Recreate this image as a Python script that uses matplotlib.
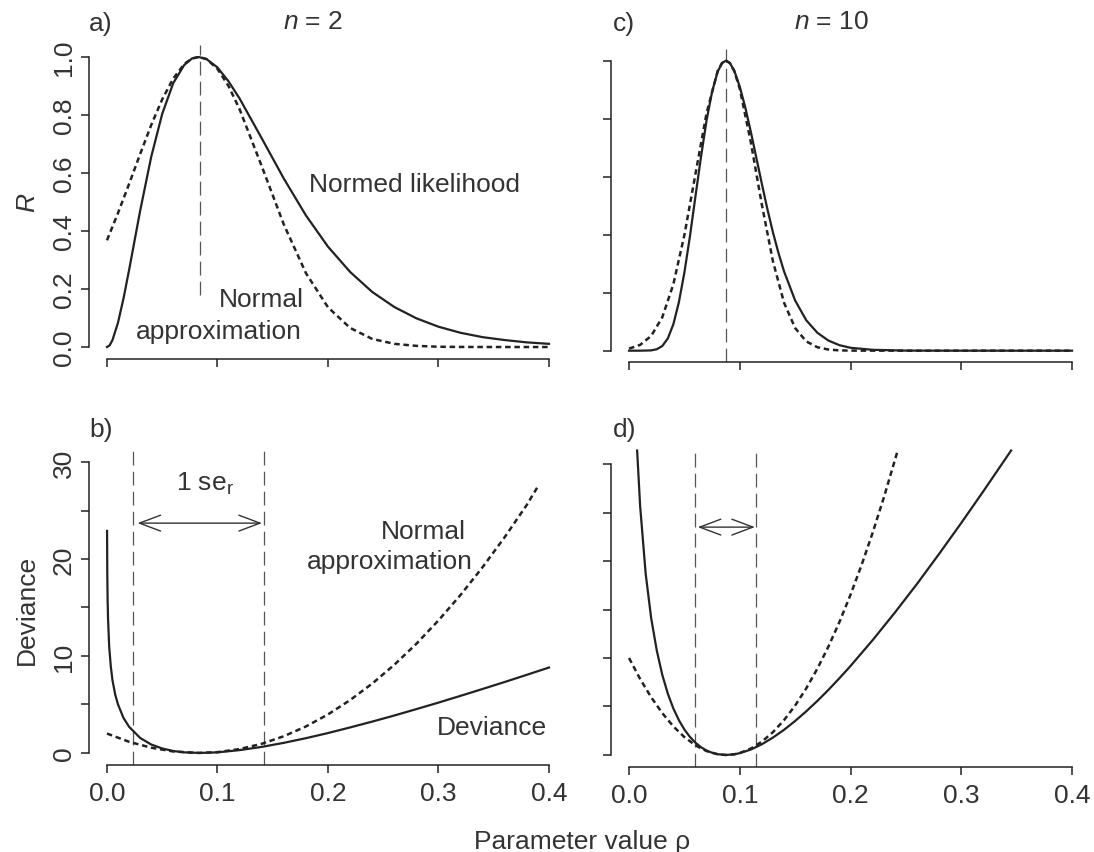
import matplotlib.pyplot as plt

plt.rcParams['font.family'] = ['Liberation Sans', 'DejaVu Sans']
plt.rcParams['font.size'] = 19
plt.rcParams['mathtext.fontset'] = 'custom'
plt.rcParams['mathtext.rm'] = 'Liberation Sans'
plt.rcParams['mathtext.it'] = 'Liberation Sans:italic'

# ---- n = 2 ----
# a) normed likelihood R
rho_a = [0, 0.0025, 0.005, 0.01, 0.015, 0.02, 0.03, 0.04, 0.05, 0.06, 0.07, 0.077, 0.083,
         0.09, 0.10, 0.11, 0.12, 0.14, 0.16, 0.18, 0.20, 0.22, 0.24, 0.26, 0.28,
         0.30, 0.32, 0.34, 0.36, 0.38, 0.40]
lik_a = [0, 0.006, 0.024, 0.084, 0.168, 0.265, 0.469, 0.655, 0.804, 0.910, 0.973, 0.995, 1.0,
         0.993, 0.964, 0.916, 0.857, 0.720, 0.581, 0.454, 0.346, 0.259, 0.190, 0.138, 0.099,
         0.070, 0.049, 0.034, 0.024, 0.016, 0.011]
rho_a_norm = [0, 0.01, 0.02, 0.03, 0.04, 0.05, 0.06, 0.07, 0.077, 0.083, 0.09, 0.10, 0.11, 0.12,
              0.14, 0.16, 0.18, 0.20, 0.22, 0.24, 0.26, 0.28, 0.30, 0.32, 0.36, 0.40]
lik_a_norm = [0.368, 0.462, 0.562, 0.665, 0.765, 0.854, 0.926, 0.976, 0.995, 1.0, 0.993, 0.959,
              0.900, 0.820, 0.624, 0.423, 0.255, 0.137, 0.066, 0.028, 0.011, 0.004, 0.001,
              0.0003, 0, 0]

# b) deviance
rho_b = [0.0001, 0.0003, 0.0006, 0.001, 0.002, 0.0035, 0.005, 0.0075, 0.01, 0.015, 0.02,
         0.03, 0.04, 0.05, 0.06, 0.07, 0.084, 0.10, 0.12, 0.14, 0.16, 0.18, 0.20, 0.22,
         0.24, 0.26, 0.28, 0.30, 0.32, 0.34, 0.36, 0.38, 0.40]
dev_b = [22.9, 18.6, 15.8, 13.8, 11.0, 8.9, 7.5, 6.0, 5.0, 3.6, 2.7,
         1.55, 0.87, 0.46, 0.20, 0.06, 0.0, 0.06, 0.29, 0.62, 1.04, 1.52, 2.05, 2.63,
         3.23, 3.86, 4.52, 5.19, 5.89, 6.60, 7.32, 8.06, 8.81]
rho_b_norm = [0, 0.02, 0.04, 0.06, 0.083, 0.10, 0.12, 0.14, 0.16, 0.18, 0.20, 0.22,
              0.24, 0.26, 0.28, 0.30, 0.32, 0.34, 0.36, 0.38, 0.39]
dev_b_norm = [2.0, 1.15, 0.54, 0.15, 0.0, 0.08, 0.40, 0.94, 1.72, 2.73, 3.97, 5.45,
              7.15, 9.09, 11.26, 13.67, 16.30, 19.17, 22.27, 25.60, 27.5]

# ---- n = 10 ----
# c) normed likelihood R
rho_c = [0, 0.01, 0.02, 0.025, 0.03, 0.035, 0.04, 0.045, 0.05, 0.055, 0.06, 0.065,
         0.07, 0.075, 0.08, 0.084, 0.0875, 0.091, 0.095, 0.10, 0.105, 0.11, 0.115, 0.12,
         0.125, 0.13, 0.135, 0.14, 0.15, 0.16, 0.17, 0.18, 0.19, 0.20, 0.22, 0.25, 0.30,
         0.35, 0.40]
lik_c = [0, 0, 0.001, 0.005, 0.016, 0.042, 0.091, 0.167, 0.270, 0.395, 0.533, 0.669,
         0.794, 0.893, 0.962, 0.992, 1.0, 0.992, 0.966, 0.910, 0.838, 0.754, 0.664, 0.574,
         0.487, 0.407, 0.336, 0.273, 0.173, 0.105, 0.062, 0.035, 0.019, 0.010, 0.003, 0.0003,
         0, 0, 0]
rho_c_norm = [0, 0.01, 0.02, 0.03, 0.04, 0.05, 0.06, 0.07, 0.08, 0.084, 0.0875, 0.091, 0.095,
              0.10, 0.11, 0.12, 0.13, 0.14, 0.15, 0.16, 0.17, 0.18, 0.19, 0.20, 0.25, 0.30, 0.40]
lik_c_norm = [0.007, 0.020, 0.051, 0.115, 0.229, 0.399, 0.610, 0.819, 0.964, 0.992, 1.0, 0.992,
              0.964, 0.903, 0.718, 0.502, 0.307, 0.165, 0.078, 0.032, 0.012, 0.004, 0.001,
              0.0003, 0, 0, 0]

# d) deviance
rho_d = [0.0073, 0.01, 0.015, 0.02, 0.025, 0.03, 0.035, 0.04, 0.045, 0.05, 0.055, 0.06,
         0.065, 0.07, 0.075, 0.08, 0.0875, 0.095, 0.10, 0.11, 0.12, 0.13, 0.14, 0.15,
         0.16, 0.17, 0.18, 0.19, 0.20, 0.22, 0.24, 0.26, 0.28, 0.30, 0.32, 0.345]
dev_d = [31.4, 25.7, 18.7, 14.1, 10.8, 8.27, 6.33, 4.80, 3.59, 2.62, 1.86, 1.26,
         0.80, 0.46, 0.23, 0.08, 0.0, 0.07, 0.19, 0.56, 1.11, 1.80, 2.60, 3.51,
         4.50, 5.57, 6.71, 7.92, 9.18, 11.85, 14.68, 17.64, 20.74, 23.93, 27.21, 31.4]
rho_d_norm = [0, 0.01, 0.02, 0.03, 0.04, 0.05, 0.06, 0.07, 0.08, 0.0875, 0.095, 0.10,
              0.11, 0.12, 0.13, 0.14, 0.15, 0.16, 0.17, 0.18, 0.19, 0.20, 0.21, 0.22, 0.23, 0.242]
dev_d_norm = [10.0, 7.84, 5.95, 4.32, 2.95, 1.84, 0.99, 0.40, 0.07, 0.0, 0.07, 0.20,
              0.66, 1.38, 2.36, 3.60, 5.10, 6.87, 8.89, 11.17, 13.72, 16.53, 19.60, 22.93, 26.52, 31.17]

# estimates and +-1 se markers
mle_a, mle_c = 0.084, 0.088
se_b = [0.0235, 0.142]
se_d = [0.060, 0.115]
arrow_b = [0.0276, 0.1403, 23.7]
arrow_d = [0.062, 0.1137, 23.5]

xticks = [0, 0.1, 0.2, 0.3, 0.4]
xlabels = ['0.0', '0.1', '0.2', '0.3', '0.4']
rticks = [0, 0.2, 0.4, 0.6, 0.8, 1.0]
rlabels = ['0.0', '0.2', '0.4', '0.6', '0.8', '1.0']
dticks = [0, 5, 10, 15, 20, 25, 30]
dlabels = ['0', '', '10', '', '20', '', '30']

ink = '#222222'
txt = '#333333'
solid = dict(color=ink, lw=1.6, clip_on=False)
dashed = dict(color=ink, lw=1.8, linestyle=(0, (2.2, 1.5)), clip_on=False)
vline = dict(color='#555555', lw=0.9, linestyle=(0, (11, 5)))

fig = plt.figure(figsize=(10.94, 8.53), dpi=100)
ax_a = fig.add_axes([0.0816, 0.5784, 0.4364, 0.3672])
ax_b = fig.add_axes([0.0816, 0.1025, 0.4364, 0.3683])
ax_c = fig.add_axes([0.5588, 0.5741, 0.4373, 0.3672])
ax_d = fig.add_axes([0.5588, 0.1001, 0.4373, 0.3683])


def r_style(ax, yticks, ylabels, show_x):
    pad = 0.04 * (yticks[-1] - yticks[0])
    ax.set_xlim(-0.016, 0.416)
    ax.set_ylim(yticks[0] - pad, yticks[-1] + pad)
    ax.spines['top'].set_visible(False)
    ax.spines['right'].set_visible(False)
    ax.spines['left'].set_bounds(yticks[0], yticks[-1])
    ax.spines['bottom'].set_bounds(0, 0.4)
    for s in ['left', 'bottom']:
        ax.spines[s].set_color(ink)
        ax.spines[s].set_linewidth(1.1)
    ax.set_xticks(xticks)
    ax.set_xticklabels(xlabels if show_x else [''] * 5)
    ax.set_yticks(yticks)
    ax.set_yticklabels(ylabels, rotation=90, va='center')
    ax.tick_params(direction='out', length=5.5, width=1.1, color=ink, labelcolor=txt)
    ax.tick_params(axis='x', pad=6)
    ax.tick_params(axis='y', pad=4)
    ax.patch.set_visible(False)


# a)
ax_a.plot(rho_a_norm, lik_a_norm, **dashed)
ax_a.plot(rho_a, lik_a, **solid)
ax_a.plot([mle_a, mle_a], [0.18, 1.04], clip_on=False, **vline)
ax_a.text(0.183, 0.562, 'Normed likelihood', color=txt, va='center', ha='left')
ax_a.text(0.178, 0.166, 'Normal', color=txt, va='center', ha='right')
ax_a.text(0.176, 0.055, 'approximation', color=txt, va='center', ha='right')
r_style(ax_a, rticks, rlabels, False)

# b)
for s in se_b:
    ax_b.axvline(s, **vline)
ax_b.plot(rho_b_norm, dev_b_norm, **dashed)
ax_b.plot(rho_b, dev_b, **solid)
ax_b.annotate('', xy=(arrow_b[0], arrow_b[2]), xytext=(arrow_b[1], arrow_b[2]),
              arrowprops=dict(arrowstyle='<->,head_length=0.8,head_width=0.3',
                              lw=1, color=txt, shrinkA=0, shrinkB=0))
ax_b.text(0.089, 27.9, r'1 se$_\mathrm{r}$', color=txt, va='center', ha='center')
ax_b.text(0.325, 22.9, 'Normal', color=txt, va='center', ha='right')
ax_b.text(0.331, 19.8, 'approximation', color=txt, va='center', ha='right')
ax_b.text(0.398, 2.7, 'Deviance', color=txt, va='center', ha='right')
r_style(ax_b, dticks, dlabels, True)

# c)
ax_c.axvline(mle_c, **vline)
ax_c.plot(rho_c_norm, lik_c_norm, **dashed)
ax_c.plot(rho_c, lik_c, **solid)
r_style(ax_c, rticks, [''] * 6, False)

# d)
for s in se_d:
    ax_d.axvline(s, **vline)
ax_d.plot(rho_d_norm, dev_d_norm, **dashed)
ax_d.plot(rho_d, dev_d, **solid)
ax_d.annotate('', xy=(arrow_d[0], arrow_d[2]), xytext=(arrow_d[1], arrow_d[2]),
              arrowprops=dict(arrowstyle='<->,head_length=0.8,head_width=0.3',
                              lw=1, color=txt, shrinkA=0, shrinkB=0))
r_style(ax_d, dticks, [''] * 7, True)

# panel letters, titles, axis labels
W, H = 1094, 853
fig.text(89 / W, 1 - 24 / H, 'a)', color=txt, va='center', ha='left')
fig.text(613 / W, 1 - 24 / H, 'c)', color=txt, va='center', ha='left')
fig.text(89 / W, 1 - 430 / H, 'b)', color=txt, va='center', ha='left')
fig.text(613 / W, 1 - 430 / H, 'd)', color=txt, va='center', ha='left')
fig.text(313 / W, 1 - 22 / H, r'$n$ = 2', color=txt, va='center', ha='center')
fig.text(832 / W, 1 - 22 / H, r'$n$ = 10', color=txt, va='center', ha='center')
fig.text(27 / W, 1 - 203 / H, 'R', style='italic', rotation=90, color=txt, va='center', ha='center')
fig.text(27 / W, 1 - 610 / H, 'Deviance', rotation=90, color=txt, va='center', ha='center')
fig.text(582 / W, 1 - 842 / H, 'Parameter value ρ', color=txt, va='center', ha='center')

fig.savefig('out.png', dpi=100)
